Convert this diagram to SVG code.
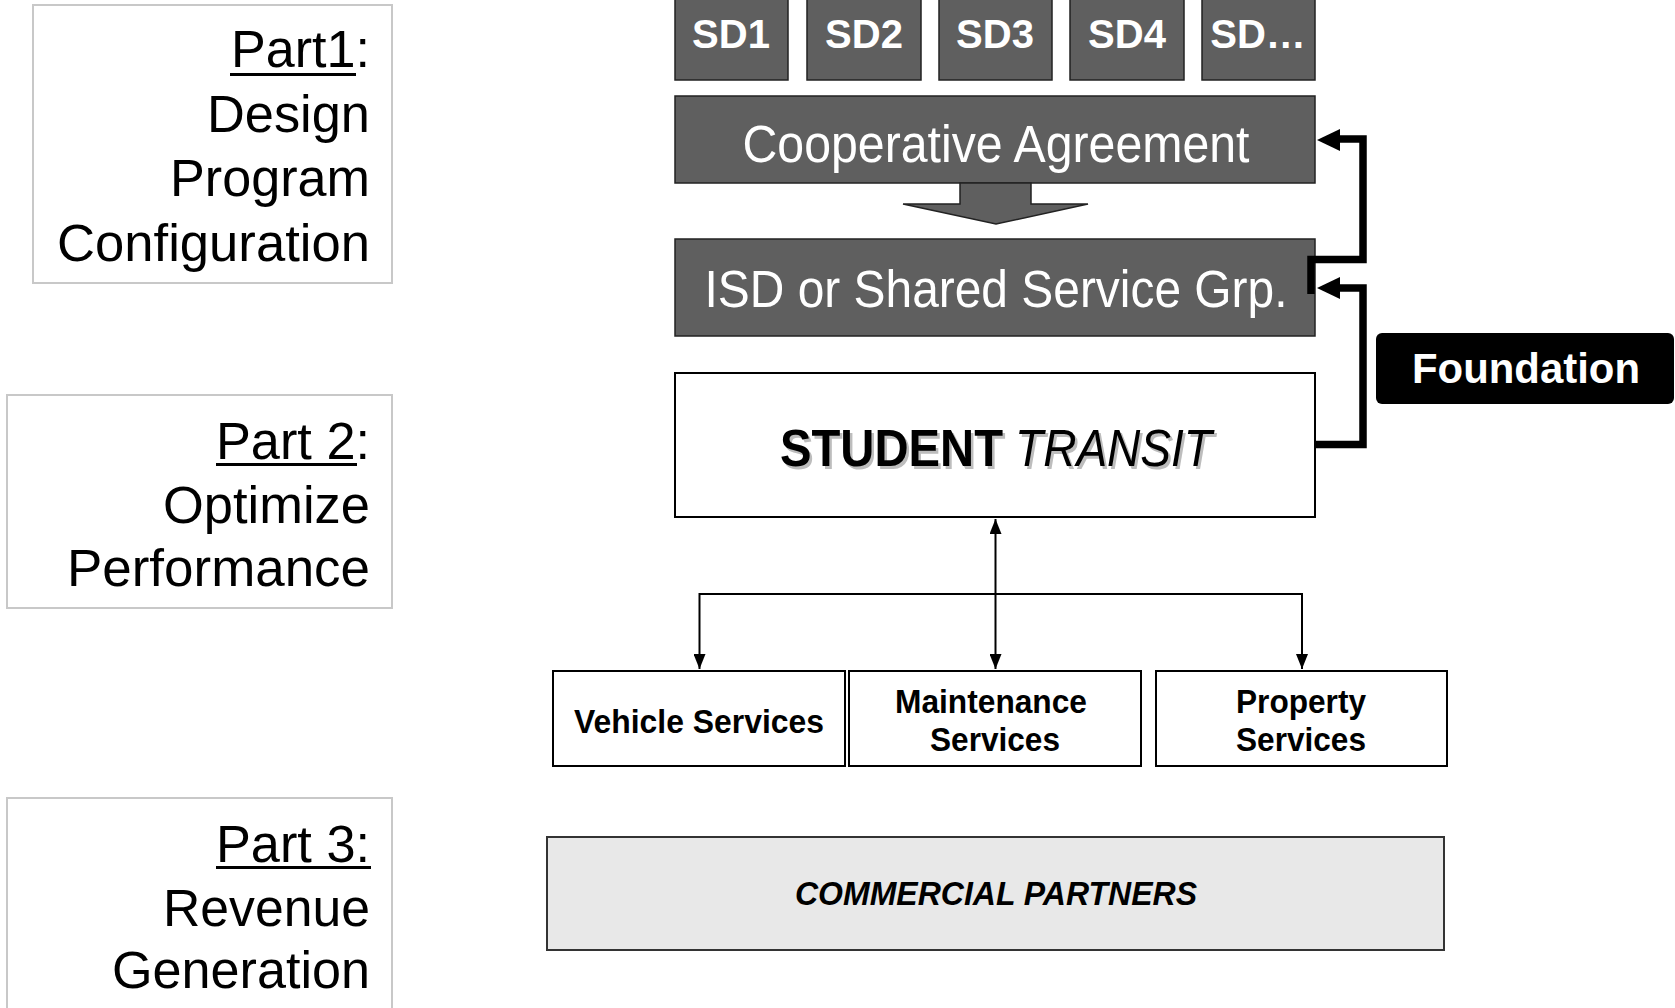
<svg xmlns="http://www.w3.org/2000/svg" width="1675" height="1008" viewBox="0 0 1675 1008">
  <style>
    .part { fill: #ffffff; stroke: #c8c8c8; stroke-width: 2; }
    .partText { font-family: "Liberation Sans", Arial, sans-serif; font-size: 51px; fill: #000; text-anchor: end; }
    .dark { fill: #5f5f5f; stroke: #222; stroke-width: 1.5; }
    .sdText { font-family: "Liberation Sans", Arial, sans-serif; font-size: 40px; font-weight: bold; fill: #fff; text-anchor: middle; }
    .bigWhite { font-family: "Liberation Sans", Arial, sans-serif; font-size: 51px; fill: #fff; text-anchor: middle; }
    .box { fill: #ffffff; stroke: #000; stroke-width: 2; }
    .svc { font-family: "Liberation Sans", Arial, sans-serif; font-size: 34px; font-weight: bold; fill: #000; text-anchor: middle; }
    .thin { fill: none; stroke: #000; stroke-width: 2; }
    .thick { fill: none; stroke: #000; stroke-width: 7.5; stroke-linejoin: miter; }
  </style>
  <defs>
    <marker id="tri" markerUnits="userSpaceOnUse" markerWidth="16" markerHeight="12" refX="15" refY="6" orient="auto-start-reverse">
      <path d="M0,0 L15,6 L0,12 z" fill="#000"/>
    </marker>
  </defs>

  <rect width="1675" height="1008" fill="#ffffff"/>

  <!-- Left-hand phase labels -->
  <g id="part1">
    <rect class="part" x="33" y="5" width="359" height="278"/>
    <text class="partText" x="370" y="67" textLength="139" lengthAdjust="spacingAndGlyphs">Part1:</text>
    <rect x="230" y="73" width="126" height="3" fill="#000"/>
    <text class="partText" x="370" y="132" textLength="163" lengthAdjust="spacingAndGlyphs">Design</text>
    <text class="partText" x="370" y="196" textLength="200" lengthAdjust="spacingAndGlyphs">Program</text>
    <text class="partText" x="370" y="261" textLength="313" lengthAdjust="spacingAndGlyphs">Configuration</text>
  </g>
  <g id="part2">
    <rect class="part" x="7" y="395" width="385" height="213"/>
    <text class="partText" x="370" y="459" textLength="154" lengthAdjust="spacingAndGlyphs">Part 2:</text>
    <rect x="216" y="463" width="141" height="3" fill="#000"/>
    <text class="partText" x="370" y="523" textLength="207" lengthAdjust="spacingAndGlyphs">Optimize</text>
    <text class="partText" x="370" y="586" textLength="303" lengthAdjust="spacingAndGlyphs">Performance</text>
  </g>
  <g id="part3">
    <rect class="part" x="7" y="798" width="385" height="220"/>
    <text class="partText" x="370" y="862" textLength="154" lengthAdjust="spacingAndGlyphs">Part 3:</text>
    <rect x="216" y="866" width="155" height="3" fill="#000"/>
    <text class="partText" x="370" y="926" textLength="207" lengthAdjust="spacingAndGlyphs">Revenue</text>
    <text class="partText" x="370" y="988" textLength="258" lengthAdjust="spacingAndGlyphs">Generation</text>
  </g>

  <!-- School district tiles -->
  <g id="sd1">
    <rect class="dark" x="675" y="-5" width="113" height="85"/>
    <text class="sdText" x="731" y="48">SD1</text>
  </g>
  <g id="sd2">
    <rect class="dark" x="807" y="-5" width="114" height="85"/>
    <text class="sdText" x="864" y="48">SD2</text>
  </g>
  <g id="sd3">
    <rect class="dark" x="939" y="-5" width="113" height="85"/>
    <text class="sdText" x="995" y="48">SD3</text>
  </g>
  <g id="sd4">
    <rect class="dark" x="1070" y="-5" width="114" height="85"/>
    <text class="sdText" x="1127" y="48">SD4</text>
  </g>
  <g id="sd-more">
    <rect class="dark" x="1202" y="-5" width="113" height="85"/>
    <text class="sdText" x="1258" y="48">SD…</text>
  </g>

  <g id="cooperative-agreement">
    <rect class="dark" x="675" y="96" width="640" height="87"/>
    <text class="bigWhite" x="996" y="162" textLength="507" lengthAdjust="spacingAndGlyphs">Cooperative Agreement</text>
  </g>

  <g id="isd">
    <rect class="dark" x="675" y="239" width="640" height="97"/>
    <text class="bigWhite" x="996" y="307" textLength="583" lengthAdjust="spacingAndGlyphs">ISD or Shared Service Grp.</text>
  </g>

  <g id="student-transit">
    <rect class="box" x="675" y="373" width="640" height="144"/>
    <g font-family="Liberation Sans, Arial, sans-serif" font-size="52px">
      <text x="782.5" y="468.5" fill="#bdbdbd" font-weight="bold" textLength="223" lengthAdjust="spacingAndGlyphs">STUDENT</text>
      <text x="1017.5" y="468.5" fill="#bdbdbd" font-style="italic" textLength="197" lengthAdjust="spacingAndGlyphs">TRANSIT</text>
      <text x="780" y="466" fill="#000" font-weight="bold" textLength="223" lengthAdjust="spacingAndGlyphs">STUDENT</text>
      <text x="1015" y="466" fill="#000" font-style="italic" textLength="197" lengthAdjust="spacingAndGlyphs">TRANSIT</text>
    </g>
  </g>

  <g id="foundation">
    <rect x="1376" y="333" width="298" height="71" rx="6" fill="#000"/>
    <text x="1526" y="383" fill="#fff" font-family="Liberation Sans, Arial, sans-serif" font-size="42px" font-weight="bold" text-anchor="middle" textLength="228" lengthAdjust="spacingAndGlyphs">Foundation</text>
  </g>

  <g id="vehicle-services">
    <rect class="box" x="553" y="671" width="292" height="95"/>
    <text class="svc" x="699" y="733" textLength="250" lengthAdjust="spacingAndGlyphs">Vehicle Services</text>
  </g>
  <g id="maintenance-services">
    <rect class="box" x="849" y="671" width="292" height="95"/>
    <text class="svc" x="991" y="713" textLength="192" lengthAdjust="spacingAndGlyphs">Maintenance</text>
    <text class="svc" x="995" y="751" textLength="130" lengthAdjust="spacingAndGlyphs">Services</text>
  </g>
  <g id="property-services">
    <rect class="box" x="1156" y="671" width="291" height="95"/>
    <text class="svc" x="1301" y="713" textLength="130" lengthAdjust="spacingAndGlyphs">Property</text>
    <text class="svc" x="1301" y="751" textLength="130" lengthAdjust="spacingAndGlyphs">Services</text>
  </g>

  <g id="commercial-partners">
    <rect x="547" y="837" width="897" height="113" fill="#e8e8e8" stroke="#333" stroke-width="2"/>
    <text x="996" y="905" font-family="Liberation Sans, Arial, sans-serif" font-size="33px" font-weight="bold" font-style="italic" text-anchor="middle" textLength="402" lengthAdjust="spacingAndGlyphs">COMMERCIAL PARTNERS</text>
  </g>

  <!-- Connectors -->
  <g id="connectors">
    <!-- block arrow from the agreement down to the ISD -->
    <path class="dark" d="M960,183 H1031 V204 H1088 L996,224 L903,204 H960 Z"/>

    <!-- foundation feedback loops -->
    <path class="thick" d="M1311,294 V259.5 H1363 V139 H1336"/>
    <polygon points="1317,140 1340,129 1340,151" fill="#000"/>
    <path class="thick" d="M1315,444.5 H1363 V288 H1336"/>
    <polygon points="1317,288 1340,277 1340,299" fill="#000"/>

    <!-- service distribution -->
    <line class="thin" x1="995.5" y1="519" x2="995.5" y2="669" marker-start="url(#tri)" marker-end="url(#tri)"/>
    <line class="thin" x1="699.5" y1="594" x2="1302" y2="594"/>
    <line class="thin" x1="699.5" y1="593" x2="699.5" y2="669" marker-end="url(#tri)"/>
    <line class="thin" x1="1302" y1="593" x2="1302" y2="669" marker-end="url(#tri)"/>
  </g>
</svg>
